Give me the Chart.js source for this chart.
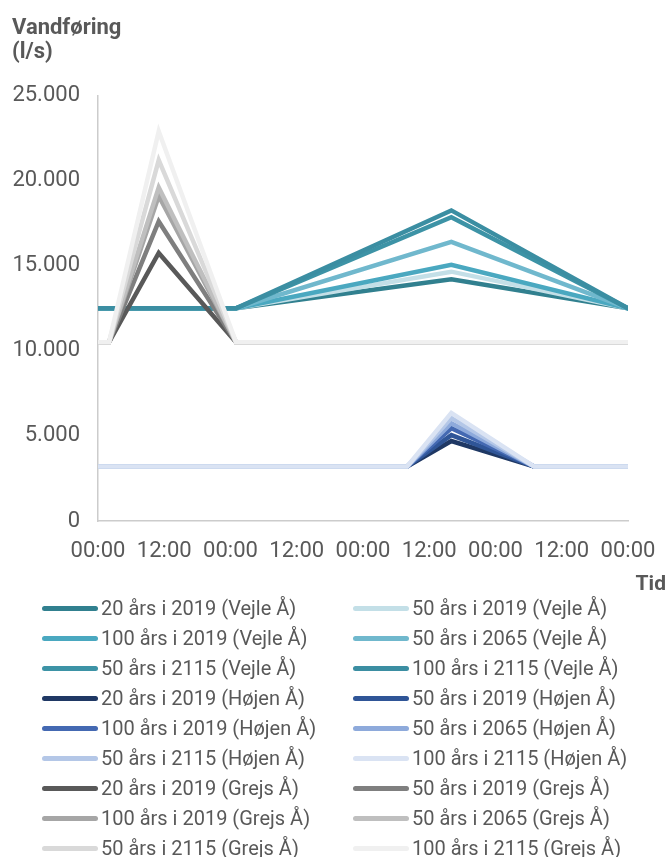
<!DOCTYPE html>
<html lang="da">
<head>
<meta charset="UTF-8">
<title>Vandføring</title>
<script src="https://cdn.jsdelivr.net/npm/chart.js@4.4.1/dist/chart.umd.min.js"></script>
<style>
  body { margin: 0; background: #fff; font-family: Roboto, sans-serif; }
  #wrap { position: relative; width: 667px; height: 857px; overflow: hidden; }
  #graf { position: absolute; left: 0; top: 0; width: 667px; height: 600px; }
  .post { position: absolute; height: 30px; display: flex; align-items: center;
          font-size: 20px; color: #595959; white-space: nowrap; }
  .post i { display: block; width: 56px; height: 5px; border-radius: 3px; margin-right: 3px; }
</style>
</head>
<body>
<div id="wrap">
  <div id="graf"><canvas id="vandforing"></canvas></div>
  <div id="legende"></div>
</div>
<script>
// tidspunkter i timer fra start (0 = første 00:00)
const vejleTimer = [0, 25, 64, 96];
const hojenTimer = [0, 56, 64, 79, 96];
const grejsTimer = [0, 2, 11, 25, 96];

// vandføring i l/s
const vejle20_2019  = [12500, 12500, 14200, 12500];
const vejle50_2019  = [12500, 12500, 14650, 12500];
const vejle100_2019 = [12500, 12500, 15050, 12500];
const vejle50_2065  = [12500, 12500, 16400, 12500];
const vejle50_2115  = [12500, 12500, 17850, 12500];
const vejle100_2115 = [12500, 12500, 18250, 12500];

const hojen20_2019  = [3200, 3200, 4700, 3200, 3200];
const hojen50_2019  = [3200, 3200, 5050, 3200, 3200];
const hojen100_2019 = [3200, 3200, 5450, 3200, 3200];
const hojen50_2065  = [3200, 3200, 5750, 3200, 3200];
const hojen50_2115  = [3200, 3200, 6050, 3200, 3200];
const hojen100_2115 = [3200, 3200, 6350, 3200, 3200];

const grejs20_2019  = [10500, 10500, 15750, 10500, 10500];
const grejs50_2019  = [10500, 10500, 17600, 10500, 10500];
const grejs100_2019 = [10500, 10500, 19100, 10500, 10500];
const grejs50_2065  = [10500, 10500, 19600, 10500, 10500];
const grejs50_2115  = [10500, 10500, 21200, 10500, 10500];
const grejs100_2115 = [10500, 10500, 22900, 10500, 10500];

const scenarier = ['20 års i 2019', '50 års i 2019', '100 års i 2019',
                   '50 års i 2065', '50 års i 2115', '100 års i 2115'];
const yTicks = [0, 5000, 10000, 15000, 20000, 25000];

const serier = [
  { aa: 'Vejle Å', timer: vejleTimer,
    data: [vejle20_2019, vejle50_2019, vejle100_2019, vejle50_2065, vejle50_2115, vejle100_2115],
    farver: ['#31808f', '#c3dfe7', '#4aa8c0', '#70b8cd', '#3d93a6', '#3b8ea2'] },
  { aa: 'Højen Å', timer: hojenTimer,
    data: [hojen20_2019, hojen50_2019, hojen100_2019, hojen50_2065, hojen50_2115, hojen100_2115],
    farver: ['#1f3864', '#2f5597', '#4469b2', '#8eaadb', '#b4c7e7', '#dae3f3'] },
  { aa: 'Grejs Å', timer: grejsTimer,
    data: [grejs20_2019, grejs50_2019, grejs100_2019, grejs50_2065, grejs50_2115, grejs100_2115],
    farver: ['#595959', '#7f7f7f', '#a6a6a6', '#bfbfbf', '#d9d9d9', '#f0f0f0'] }
];

const datasets = [];
serier.forEach(s => {
  s.data.forEach((vaerdier, j) => {
    datasets.push({
      label: scenarier[j] + ' (' + s.aa + ')',
      data: vaerdier.map((v, k) => ({ x: s.timer[k], y: v })),
      borderColor: s.farver[j],
      backgroundColor: s.farver[j],
      borderWidth: 4.5,
      borderCapStyle: 'round',
      pointRadius: 0,
      tension: 0
    });
  });
});
// senere serier tegnes øverst
datasets.forEach((d, i) => { d.order = datasets.length - i; });

const tusind = v => String(v).replace(/\B(?=(\d{3})+(?!\d))/g, '.');

// aksetitel "Tid" helt ude i højre side
const tidTitel = {
  id: 'tidTitel',
  afterDraw(chart) {
    const ctx = chart.ctx;
    ctx.save();
    ctx.font = 'bold 21px Roboto';
    ctx.fillStyle = '#595959';
    ctx.textAlign = 'right';
    ctx.textBaseline = 'middle';
    ctx.fillText('Tid', chart.width - 1, 585);
    ctx.restore();
  }
};

const chart = new Chart(document.getElementById('vandforing'), {
  type: 'line',
  data: { datasets },
  plugins: [tidTitel],
  options: {
    responsive: true,
    maintainAspectRatio: false,
    animation: false,
    layout: { padding: { left: 12, right: 39, top: 0, bottom: 0 } },
    plugins: {
      legend: { display: false },
      tooltip: { enabled: false },
      title: {
        display: true,
        text: ['Vandføring', '(l/s)'],
        align: 'start',
        color: '#595959',
        font: { family: 'Roboto', size: 22, weight: 'bold', lineHeight: 1.08 },
        padding: { top: 17, bottom: 31 }
      }
    },
    scales: {
      x: {
        type: 'linear',
        min: 0, max: 96,
        grid: { display: false },
        border: { color: '#cccccc', width: 1.5 },
        ticks: {
          stepSize: 12,
          maxRotation: 0,
          padding: 9,
          color: '#595959',
          font: { family: 'Roboto', size: 22 },
          callback: v => (v % 24 === 0 ? '00:00' : '12:00')
        },
        afterFit: s => { s.height = 79; }
      },
      y: {
        min: 0, max: 25000,
        grid: { display: false },
        border: { color: '#cccccc', width: 1.5 },
        afterBuildTicks: s => { s.ticks = yTicks.map(v => ({ value: v })); },
        ticks: {
          padding: 10,
          color: '#595959',
          font: { family: 'Roboto', size: 22 },
          callback: v => tusind(v)
        },
        afterFit: s => { s.width = 86; }
      }
    }
  }
});

// forklaring i to kolonner
const legende = document.getElementById('legende');
chart.data.datasets.forEach((d, i) => {
  const el = document.createElement('div');
  el.className = 'post';
  el.style.left = (i % 2 ? 353 : 42) + 'px';
  el.style.top = (593 + Math.floor(i / 2) * 30) + 'px';
  const streg = document.createElement('i');
  streg.style.background = d.borderColor;
  el.appendChild(streg);
  el.appendChild(document.createTextNode(d.label));
  legende.appendChild(el);
});
</script>
</body>
</html>
